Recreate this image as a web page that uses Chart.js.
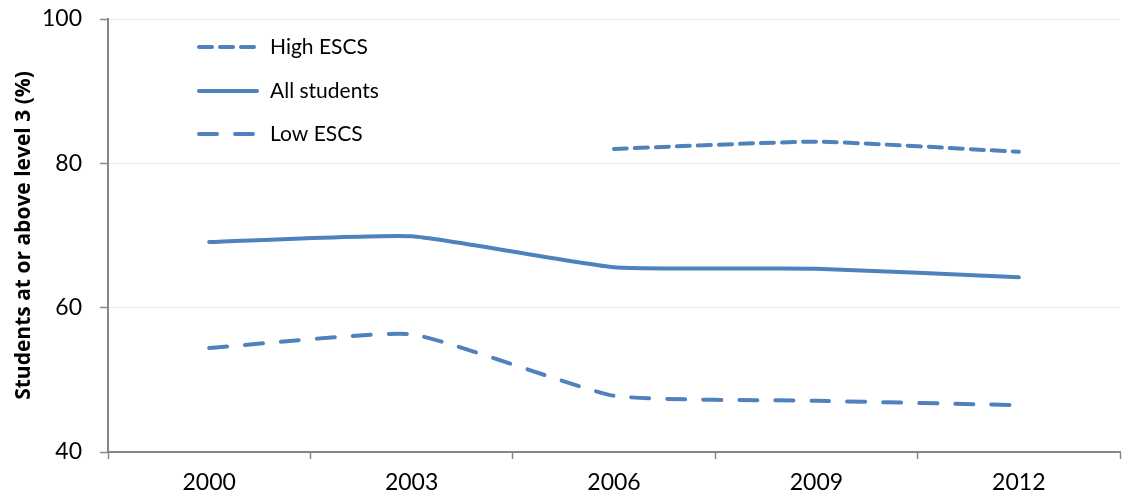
<!DOCTYPE html>
<html>
<head>
<meta charset="utf-8">
<script src="https://cdn.jsdelivr.net/npm/chart.js@4.4.0/dist/chart.umd.min.js"></script>
<style>
  html, body { margin: 0; padding: 0; background: #fff; }
  #wrap { width: 1122px; height: 496px; }
</style>
</head>
<body>
<div id="wrap"><canvas id="chart" width="1122" height="496"></canvas></div>
<script>
// Data
const years = ["2000", "2003", "2006", "2009", "2012"];
const highEscs = [null, null, 82.0, 83.0, 81.6];
const allStudents = [69.1, 69.9, 65.6, 65.4, 64.2];
const lowEscs = [54.4, 56.3, 47.8, 47.1, 46.5];
const yTicks = [40, 60, 80, 100];

const blue = "#4f81bd";
const axisGray = "#868686";
const fontFamily = "Lato, 'Open Sans', sans-serif";

// Legend drawn inside the plot area, top left
const insideLegend = {
  id: "insideLegend",
  afterDraw(chart) {
    const ctx = chart.ctx;
    const rows = [47, 91, 134];
    ctx.save();
    chart.data.datasets.forEach((ds, i) => {
      const y = rows[i];
      ctx.strokeStyle = ds.borderColor;
      ctx.lineWidth = ds.borderWidth;
      ctx.lineCap = "round";
      ctx.setLineDash(ds.borderDash || []);
      ctx.beginPath();
      ctx.moveTo(199, y);
      ctx.lineTo(257, y);
      ctx.stroke();
      ctx.setLineDash([]);
      ctx.fillStyle = "#000";
      ctx.font = "21px " + fontFamily;
      ctx.textBaseline = "middle";
      ctx.fillText(ds.label, 270, y);
    });
    ctx.restore();
  }
};

const ctx = document.getElementById("chart").getContext("2d");
new Chart(ctx, {
  type: "line",
  data: {
    labels: years,
    datasets: [
      {
        label: "High ESCS",
        data: highEscs,
        borderColor: blue,
        borderWidth: 4,
        borderDash: [13, 8],
        borderCapStyle: "round",
        pointRadius: 0,
        tension: 0.15
      },
      {
        label: "All students",
        data: allStudents,
        borderColor: blue,
        borderWidth: 4,
        borderCapStyle: "round",
        pointRadius: 0,
        tension: 0.15
      },
      {
        label: "Low ESCS",
        data: lowEscs,
        borderColor: blue,
        borderWidth: 4,
        borderDash: [18, 18],
        borderCapStyle: "round",
        pointRadius: 0,
        tension: 0.15
      }
    ]
  },
  options: {
    responsive: false,
    animation: false,
    layout: { padding: { top: 19, right: 2, left: 0, bottom: 0 } },
    plugins: {
      legend: { display: false },
      tooltip: { enabled: false }
    },
    scales: {
      x: {
        offset: true,
        grid: {
          offset: true,
          drawOnChartArea: false,
          tickColor: axisGray,
          tickLength: 7,
          tickWidth: 1.5
        },
        border: { color: axisGray, width: 2 },
        ticks: {
          color: "#000",
          font: { family: fontFamily, size: 23 },
          padding: 10,
          maxRotation: 0
        },
        afterFit(scale) {
          scale.height = 44;
          scale.paddingLeft = 0;
          scale.paddingRight = 0;
        }
      },
      y: {
        min: 40,
        max: 100,
        afterBuildTicks(scale) {
          scale.ticks = yTicks.map(v => ({ value: v }));
        },
        grid: {
          color: "#ebebeb",
          lineWidth: 1,
          tickColor: axisGray,
          tickLength: 8,
          tickWidth: 1.5
        },
        border: { color: axisGray, width: 2 },
        ticks: {
          color: "#000",
          font: { family: fontFamily, size: 23 },
          padding: 18
        },
        title: {
          display: true,
          text: "Students at or above level 3 (%)",
          color: "#000",
          font: { family: "'Open Sans', 'Noto Sans', sans-serif", size: 21, weight: 700 },
          padding: { top: 11, bottom: 4 }
        },
        afterFit(scale) {
          scale.width = 108;
          scale.paddingTop = 0;
          scale.paddingBottom = 0;
        }
      }
    }
  },
  plugins: [insideLegend]
});
</script>
</body>
</html>
